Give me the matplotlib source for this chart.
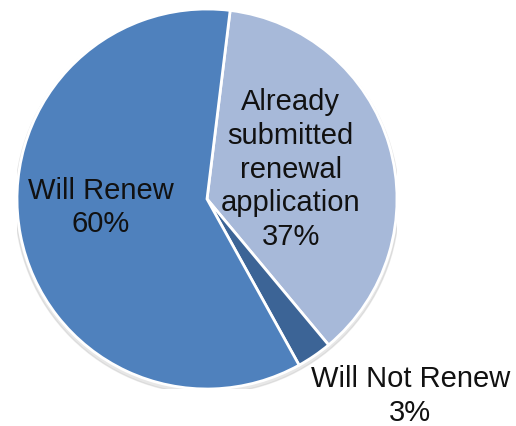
import numpy as np
import matplotlib.pyplot as plt

plt.rcParams['font.family'] = ['Liberation Sans', 'DejaVu Sans']

labels = ['Already\nsubmitted\nrenewal\napplication', 'Will Not Renew', 'Will Renew']
shares = [37, 3, 60]
colors = ['#A7B9D9', '#3C6496', '#4F81BD']

# label spots (axes data units) for each slice
label_pos = [(0.44, 0.16), (1.07, -1.03), (-0.56, -0.04)]

fig = plt.figure(figsize=(5.16, 4.27), dpi=100)
W, H = 516, 427
cx, cy, r = 207, 200, 190
ax = fig.add_axes([(cx - r) / W, (H - cy - r) / H, 2 * r / W, 2 * r / H])

# faint drop shadow under the pie
ax.add_patch(plt.Circle((0.0, -0.015), 1.01, color='#bbbbbb', alpha=0.35, zorder=0))

wedges, _ = ax.pie(shares, colors=colors, startangle=83, counterclock=False,
                   wedgeprops=dict(edgecolor='white', linewidth=2, zorder=1))
ax.set_xlim(-1, 1)
ax.set_ylim(-1, 1)
ax.axis('off')

for lab, val, (x, y) in zip(labels, shares, label_pos):
    ax.text(x, y, lab + '\n' + str(val) + '%', ha='center', va='center',
            fontsize=21, color='#111111', linespacing=1.26, clip_on=False)

fig.savefig('out.png', dpi=100)
